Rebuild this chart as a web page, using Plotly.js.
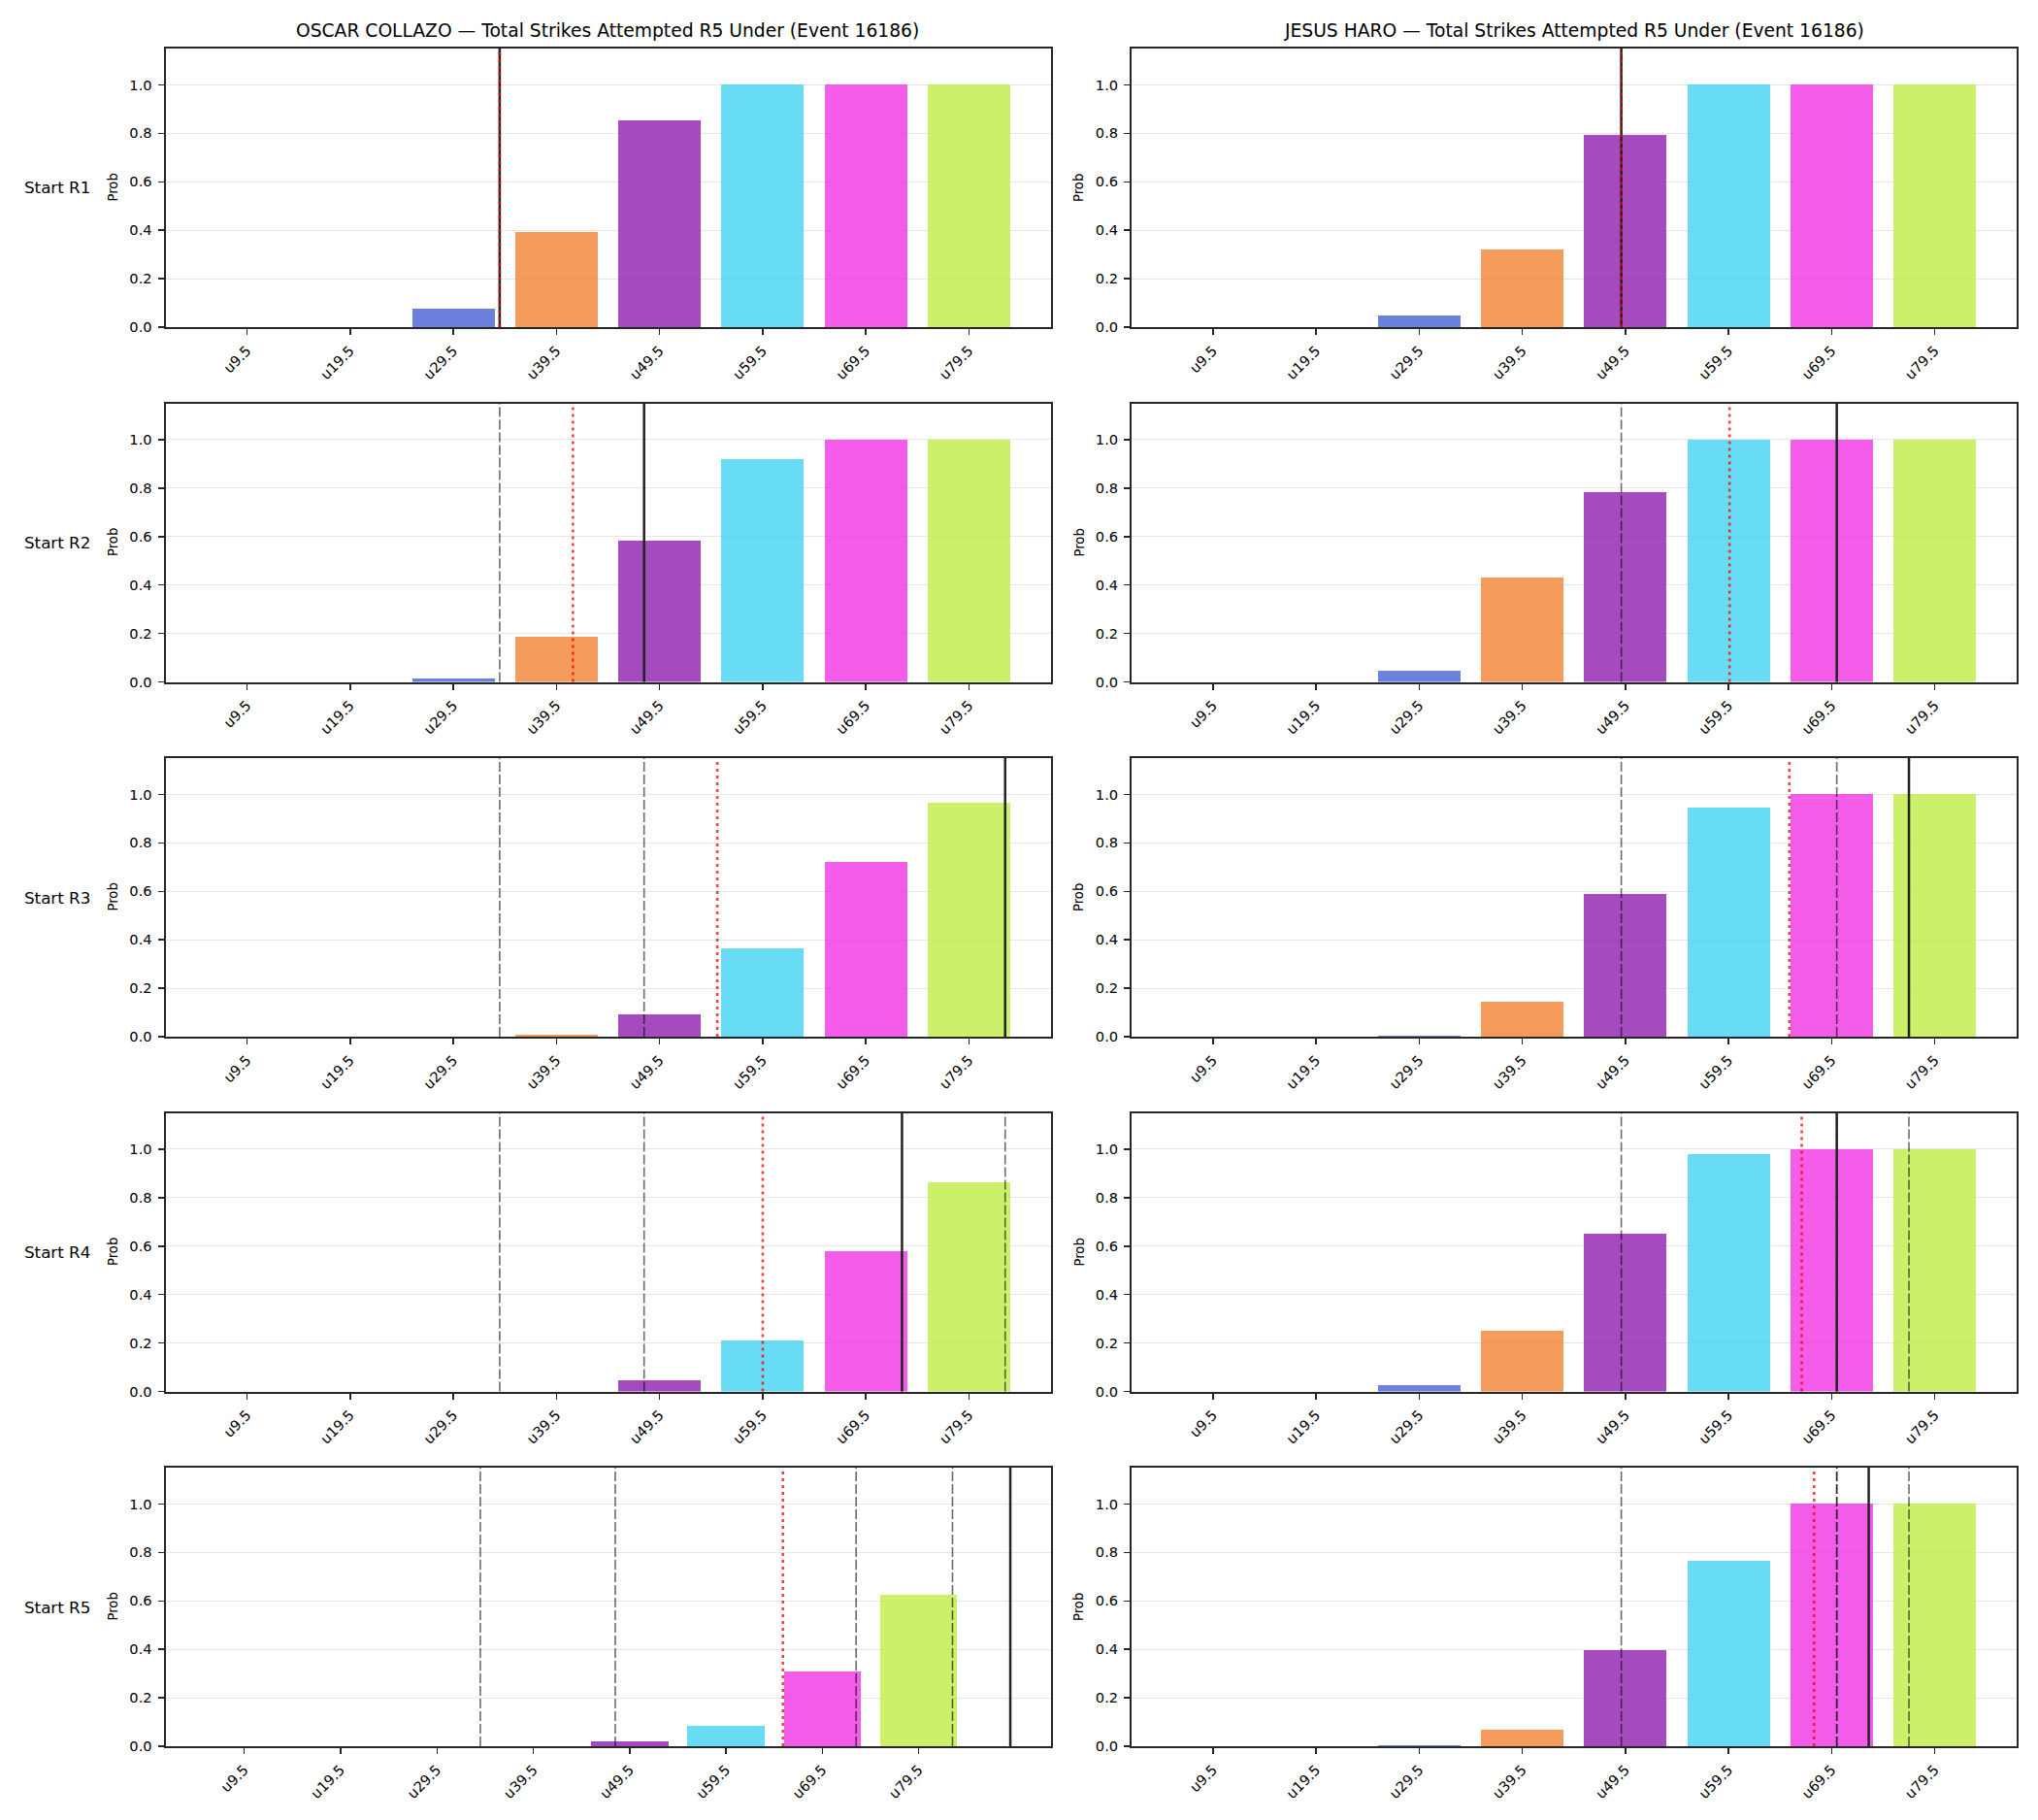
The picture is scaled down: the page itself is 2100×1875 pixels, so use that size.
<!DOCTYPE html>
<html>
<head>
<meta charset="utf-8">
<script src="https://cdn.plot.ly/plotly-3.0.1.min.js"></script>
<style>
  html, body { margin: 0; padding: 0; background: #ffffff; }
  #chart { width: 2100px; height: 1875px; }
</style>
</head>
<body>
<div id="chart"></div>
<script>
// ---- data ---------------------------------------------------------------
const thresholds = [9.5, 19.5, 29.5, 39.5, 49.5, 59.5, 69.5, 79.5];
const tickLabels = ['u9.5', 'u19.5', 'u29.5', 'u39.5', 'u49.5', 'u59.5', 'u69.5', 'u79.5'];
const roundLabels = ['Start R1', 'Start R2', 'Start R3', 'Start R4', 'Start R5'];
const fighterNames = ['OSCAR COLLAZO', 'JESUS HARO'];
const marketName = 'Total Strikes Attempted R5 Under (Event 16186)';

// P(total strikes attempted through R5 under each line), one row per round start
const collazoProbs = [
  [0, 0, 0.075, 0.391, 0.852, 1.000, 1.000, 1.000],
  [0, 0, 0.015, 0.187, 0.584, 0.921, 1.000, 1.000],
  [0, 0, 0.000, 0.009, 0.094, 0.366, 0.723, 0.965],
  [0, 0, 0.000, 0.000, 0.047, 0.211, 0.581, 0.865],
  [0, 0, 0.000, 0.000, 0.020, 0.083, 0.307, 0.624]
];
const haroProbs = [
  [0, 0, 0.047, 0.320, 0.792, 1.000, 1.000, 1.000],
  [0, 0, 0.048, 0.430, 0.785, 1.000, 1.000, 1.000],
  [0, 0, 0.004, 0.146, 0.588, 0.945, 1.000, 1.000],
  [0, 0, 0.025, 0.250, 0.650, 0.980, 1.000, 1.000],
  [0, 0, 0.004, 0.067, 0.396, 0.765, 1.000, 1.000]
];

// pace line at each round start (solid), earlier rounds repeat as dashed
const collazoPace = [34.0, 48.0, 83.0, 73.0, 89.0];
const haroPace = [49.1, 70.0, 77.0, 70.0, 73.1];
// model expectation at each round start (dotted red)
const collazoExpected = [34.0, 41.1, 55.1, 59.5, 65.4];
const haroExpected = [49.1, 59.6, 65.4, 66.6, 67.8];

// ---- styling --------------------------------------------------------------
const barColors = [
  'rgba(230, 60, 75, 0.8)', 'rgba(60, 180, 75, 0.8)',
  'rgba(69, 99, 214, 0.8)', 'rgba(242, 130, 51, 0.8)',
  'rgba(143, 30, 175, 0.8)', 'rgba(66, 210, 242, 0.8)',
  'rgba(239, 51, 226, 0.8)', 'rgba(192, 236, 69, 0.8)'
];
const W = 2100, H = 1875;
const FONT = 'DejaVu Sans, Liberation Sans, sans-serif';
const colPx = [[170.5, 1082.5], [1166, 2077.5]];
const rowTopPx = [50, 415.5, 781, 1146.5, 1512];
const rowHeightPx = 287;
const barWidth = 8;
const spine = '#262626';
const tickSize = 14.6;

const players = [
  { probs: collazoProbs, pace: collazoPace, expected: collazoExpected },
  { probs: haroProbs, pace: haroPace, expected: haroExpected }
];

const traces = [];
const shapes = [];
const annotations = [];
const layout = {
  width: W, height: H,
  margin: { l: 0, r: 0, t: 0, b: 0 },
  paper_bgcolor: '#ffffff', plot_bgcolor: '#ffffff',
  showlegend: false,
  font: { family: FONT, color: '#000000' },
  bargap: 0
};

players.forEach((pl, c) => {
  pl.probs.forEach((vals, r) => {
    const n = r * 2 + c + 1;
    const xa = n === 1 ? 'x' : 'x' + n;
    const ya = n === 1 ? 'y' : 'y' + n;

    // vertical markers in this panel
    const dashed = pl.pace.slice(0, r);
    const allX = [thresholds[0] - barWidth / 2, thresholds[thresholds.length - 1] + barWidth / 2,
                  pl.pace[r], pl.expected[r]].concat(dashed);
    const lo = Math.min.apply(null, allX), hi = Math.max.apply(null, allX);
    const pad = (hi - lo) * 0.05;

    traces.push({
      type: 'bar', x: thresholds, y: vals, width: barWidth,
      marker: { color: barColors, line: { width: 0 } },
      xaxis: xa, yaxis: ya, hoverinfo: 'x+y'
    });

    const x0 = colPx[c][0] / W, x1 = colPx[c][1] / W;
    const yTop = 1 - rowTopPx[r] / H, yBot = 1 - (rowTopPx[r] + rowHeightPx) / H;

    layout['xaxis' + (n === 1 ? '' : n)] = {
      domain: [x0, x1], anchor: ya, range: [lo - pad, hi + pad],
      tickmode: 'array', tickvals: thresholds, ticktext: tickLabels,
      tickangle: -45, ticks: 'outside', ticklen: 6, tickwidth: 1.5, tickcolor: spine,
      ticklabelstandoff: 2,
      tickfont: { size: tickSize, family: FONT, color: '#000' },
      showgrid: false, zeroline: false,
      showline: true, mirror: true, linecolor: spine, linewidth: 2
    };
    layout['yaxis' + (n === 1 ? '' : n)] = {
      domain: [yBot, yTop], anchor: xa, range: [0, 1.15],
      tickmode: 'array', tickvals: [0, 0.2, 0.4, 0.6, 0.8, 1.0],
      tickformat: '.1f', ticks: 'outside', ticklen: 6, tickwidth: 1.5, tickcolor: spine,
      ticklabelstandoff: 3,
      tickfont: { size: tickSize, family: FONT, color: '#000' },
      showgrid: true, gridcolor: '#e6e6e6', gridwidth: 1, zeroline: false,
      showline: true, mirror: true, linecolor: spine, linewidth: 2
    };

    // earlier-round pace lines
    dashed.forEach(v => shapes.push({
      type: 'line', xref: xa, yref: ya + ' domain', x0: v, x1: v, y0: 0, y1: 1,
      line: { color: 'rgba(0,0,0,0.58)', width: 1.6, dash: '10px,3px' }, layer: 'above'
    }));
    // current pace
    shapes.push({
      type: 'line', xref: xa, yref: ya + ' domain', x0: pl.pace[r], x1: pl.pace[r], y0: 0, y1: 1,
      line: { color: '#222222', width: 2.5 }, layer: 'above'
    });
    // expectation
    shapes.push({
      type: 'line', xref: xa, yref: ya + ' domain', x0: pl.expected[r], x1: pl.expected[r], y0: 0, y1: 1,
      line: { color: 'rgba(255,0,0,0.75)', width: 2.6, dash: '3px,4px' }, layer: 'above'
    });

    // y label
    annotations.push({
      xref: 'paper', yref: 'paper', x: (colPx[c][0] - 54.5) / W, y: (yBot + yTop) / 2,
      xanchor: 'center', yanchor: 'middle', textangle: -90, showarrow: false,
      text: 'Prob', font: { size: 13.2, family: FONT, color: '#000' }
    });

    if (c === 0) {
      annotations.push({
        xref: 'paper', yref: 'paper', x: 23 / W, y: (yBot + yTop) / 2,
        xanchor: 'left', yanchor: 'middle', showarrow: false,
        text: roundLabels[r], font: { size: 16.7, family: FONT, color: '#000' }
      });
    }
    if (r === 0) {
      annotations.push({
        xref: 'paper', yref: 'paper', x: (x0 + x1) / 2, y: 1 - 31.7 / H,
        xanchor: 'center', yanchor: 'middle', showarrow: false,
        text: fighterNames[c] + ' \u2014 ' + marketName,
        font: { size: 18.7, family: FONT, color: '#000' }
      });
    }
  });
});

layout.shapes = shapes;
layout.annotations = annotations;

Plotly.newPlot('chart', traces, layout, { staticPlot: true, displayModeBar: false });
</script>
</body>
</html>
